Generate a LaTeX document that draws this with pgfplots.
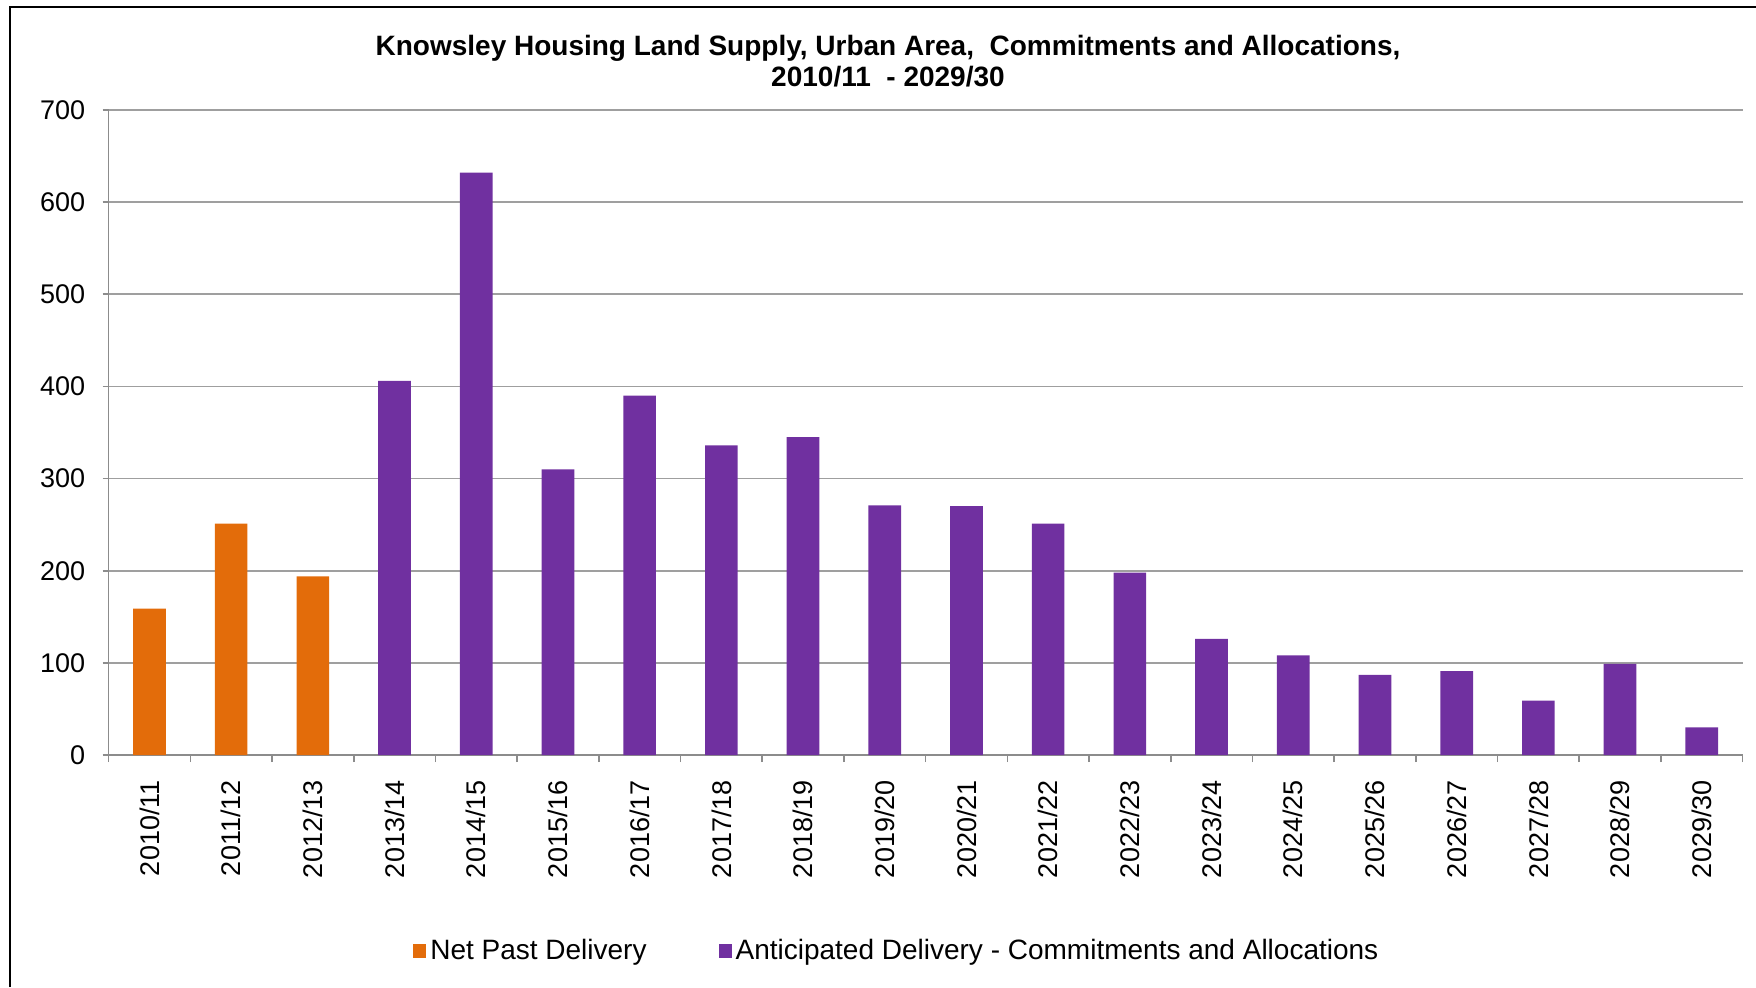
\documentclass[border=0pt]{standalone}
\usepackage{fontspec}
\setmainfont{Liberation Sans}
\usepackage{pgfplots}
\pgfplotsset{compat=1.18}
\definecolor{orng}{RGB}{227,108,10}
\definecolor{purp}{RGB}{112,48,160}
\begin{document}
\begin{tikzpicture}
\begin{axis}[
  at={(54.3pt,116pt)}, anchor=south west,
  scale only axis, width=817pt, height=322.5pt,
  xmin=-0.5, xmax=19.5, ymin=0, ymax=700,
  ybar, bar width=0.4, bar shift=0pt,
  axis x line=bottom, axis y line=left,
  axis line style={-, draw=gray!90, line width=0.8pt},
  ymajorgrids, grid style={gray!75, line width=0.8pt},
  xtick={0,...,19},
  xticklabels={2010/11,2011/12,2012/13,2013/14,2014/15,2015/16,2016/17,2017/18,2018/19,2019/20,2020/21,2021/22,2022/23,2023/24,2024/25,2025/26,2026/27,2027/28,2028/29,2029/30},
  minor xtick={-0.5,0.5,...,19.5},
  major x tick style={draw=none},
  minor x tick style={draw=gray!90, line width=0.8pt},
  y tick style={draw=gray!90, line width=0.8pt},
  ytick={0,100,...,700},
  tick align=outside,
  major tick length=3pt, minor tick length=3.5pt,
  tick label style={font=\fontsize{13.5}{16}\selectfont},
  /pgf/number format/assume math mode=true,
  x tick label style={rotate=90, anchor=east, inner xsep=9.5pt},
  y tick label style={inner xsep=8.5pt},
  legend style={draw=none, at={(0.483,-0.304)}, anchor=center, legend columns=2,
    font=\fontsize{14}{16}\selectfont,
    /tikz/every even column/.append style={column sep=34pt}},
  legend image code/.code={\fill[#1, draw=none] (0pt,-3.3pt) rectangle (6.5pt,3.3pt);},
]
\addplot[fill=orng, draw=none] coordinates {(0,159) (1,251) (2,194)};
\addlegendentry{Net Past Delivery}
\addplot[fill=purp, draw=none] coordinates {(3,406) (4,632) (5,310) (6,390) (7,336) (8,345) (9,271) (10,270) (11,251) (12,198) (13,126) (14,108) (15,87) (16,91) (17,59) (18,99) (19,30)};
\addlegendentry{Anticipated Delivery - Commitments and Allocations}
\end{axis}
\node[align=center, font=\bfseries\fontsize{14}{15.5}\selectfont] at (444pt,463pt)
  {Knowsley Housing Land Supply, Urban Area,\ \ Commitments and Allocations,\\ 2010/11\ \ - 2029/30};
\draw[black, line width=1pt] (5pt,0pt) -- (5pt,490pt) -- (878pt,490pt);
\pgfresetboundingbox
\path[use as bounding box] (0pt,0pt) rectangle (878pt,493.5pt);
\end{tikzpicture}
\end{document}
